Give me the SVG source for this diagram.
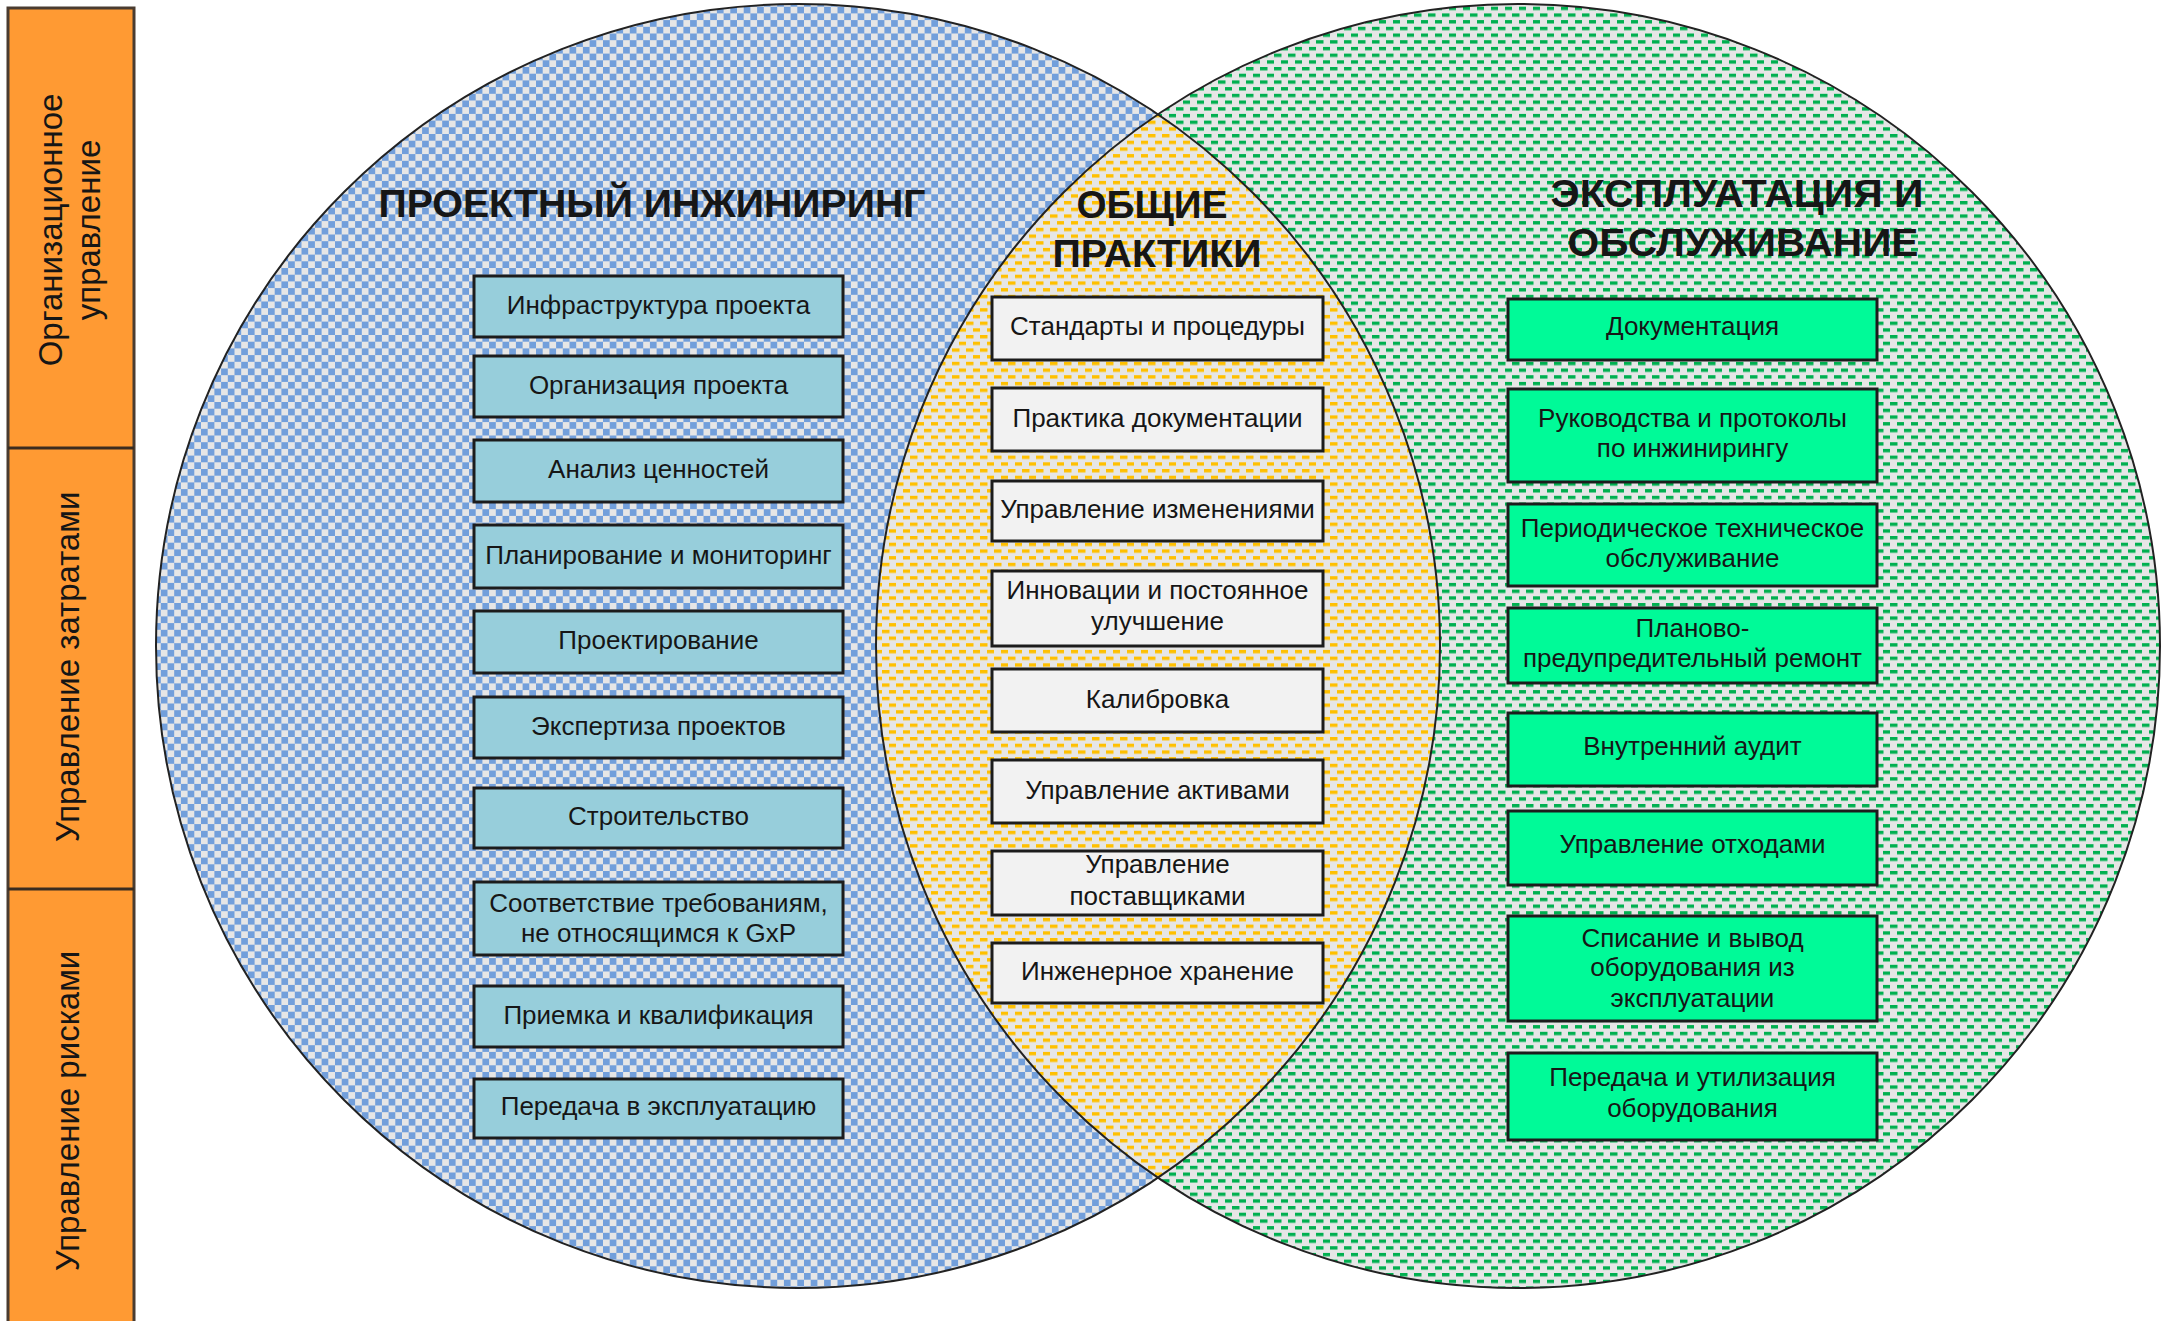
<svg xmlns="http://www.w3.org/2000/svg" width="2177" height="1321" viewBox="0 0 2177 1321">
<defs>
<pattern id="pBlue" width="13.4" height="13.4" patternUnits="userSpaceOnUse"><rect width="13.4" height="13.4" fill="#e6e6e6"/><rect width="6.7" height="6.7" fill="#729fdb"/><rect x="6.7" y="6.7" width="6.7" height="6.7" fill="#729fdb"/></pattern>
<pattern id="pGreen" width="14" height="13.4" patternUnits="userSpaceOnUse"><rect width="14" height="13.4" fill="#e6e6e6"/><rect width="7.5" height="3.4" fill="#00b050"/><rect x="7" y="6.7" width="7.5" height="3.4" fill="#00b050"/></pattern>
<pattern id="pYellow" width="14" height="13.4" patternUnits="userSpaceOnUse"><rect width="14" height="13.4" fill="#e6e6e6"/><rect width="7.5" height="3.4" fill="#ffc000"/><rect x="7" y="6.7" width="7.5" height="3.4" fill="#ffc000"/></pattern>
</defs>
<style>
text{font-family:"Liberation Sans",Arial,sans-serif;fill:#161616;text-anchor:middle}
.lbl{font-size:26px}
.side{font-size:33px}
.title{font-size:39px;font-weight:bold}
.bx{stroke:#1c1c1c;stroke-width:3}
.pe{fill:#97cedb}
.cp{fill:#f2f2f2}
.om{fill:#00fa98}
.ring{fill:none;stroke:#222;stroke-width:2}
.col{fill:#ff9a33;stroke:#4a3c30;stroke-width:3}
</style>
<rect width="2177" height="1321" fill="#fff"/>

<g id="side-column">
<rect class="col" x="8" y="8" width="126" height="1330"/>
<line x1="8" y1="448" x2="134" y2="448" stroke="#3a2c20" stroke-width="3"/>
<line x1="8" y1="889" x2="134" y2="889" stroke="#3a2c20" stroke-width="3"/>
<g id="side-org" transform="translate(71,230) rotate(-90)"><text class="side" x="0" y="-9">Организационное</text><text class="side" x="0" y="29">управление</text></g>
<g id="side-cost" transform="translate(71,667) rotate(-90)"><text class="side" x="0" y="8">Управление затратами</text></g>
<g id="side-risk" transform="translate(71,1111) rotate(-90)"><text class="side" x="0" y="8">Управление рисками</text></g>
</g>

<g id="venn">
<circle cx="798" cy="646" r="642" fill="url(#pBlue)"/>
<circle cx="1518" cy="646" r="642" fill="url(#pGreen)"/>
<path d="M1158 114.4 A642 642 0 0 1 1158 1177.6 A642 642 0 0 1 1158 114.4 Z" fill="url(#pYellow)"/>
<circle class="ring" cx="798" cy="646" r="642"/>
<circle class="ring" cx="1518" cy="646" r="642"/>
</g>

<g id="titles">
<text class="title" x="652" y="217" textLength="547" lengthAdjust="spacingAndGlyphs">ПРОЕКТНЫЙ ИНЖИНИРИНГ</text>
<text class="title" x="1152" y="218" font-size="38" textLength="151" lengthAdjust="spacingAndGlyphs">ОБЩИЕ</text>
<text class="title" x="1157" y="267" textLength="209" lengthAdjust="spacingAndGlyphs">ПРАКТИКИ</text>
<text class="title" x="1737" y="207" textLength="373" lengthAdjust="spacingAndGlyphs">ЭКСПЛУАТАЦИЯ И</text>
<text class="title" x="1743" y="256" textLength="351" lengthAdjust="spacingAndGlyphs">ОБСЛУЖИВАНИЕ</text>
</g>

<g id="pe-1"><rect class="bx pe" x="474" y="276" width="369" height="61"/><text class="lbl" x="658.5" y="313.5">Инфраструктура проекта</text></g>
<g id="pe-2"><rect class="bx pe" x="474" y="356" width="369" height="61"/><text class="lbl" x="658.5" y="393.5">Организация проекта</text></g>
<g id="pe-3"><rect class="bx pe" x="474" y="440" width="369" height="62"/><text class="lbl" x="658.5" y="478">Анализ ценностей</text></g>
<g id="pe-4"><rect class="bx pe" x="474" y="525" width="369" height="63"/><text class="lbl" x="658.5" y="563.5">Планирование и мониторинг</text></g>
<g id="pe-5"><rect class="bx pe" x="474" y="611" width="369" height="62"/><text class="lbl" x="658.5" y="649">Проектирование</text></g>
<g id="pe-6"><rect class="bx pe" x="474" y="697" width="369" height="61"/><text class="lbl" x="658.5" y="734.5">Экспертиза проектов</text></g>
<g id="pe-7"><rect class="bx pe" x="474" y="788" width="369" height="60"/><text class="lbl" x="658.5" y="825">Строительство</text></g>
<g id="pe-8"><rect class="bx pe" x="474" y="882" width="369" height="73"/><text class="lbl" x="658.5" y="911.5">Соответствие требованиям,</text><text class="lbl" x="658.5" y="942">не относящимся к GxP</text></g>
<g id="pe-9"><rect class="bx pe" x="474" y="986" width="369" height="61"/><text class="lbl" x="658.5" y="1023.5">Приемка и квалификация</text></g>
<g id="pe-10"><rect class="bx pe" x="474" y="1079" width="369" height="59"/><text class="lbl" x="658.5" y="1115">Передача в эксплуатацию</text></g>

<g id="cp-1"><rect class="bx cp" x="992" y="297" width="331" height="63"/><text class="lbl" x="1157.5" y="334.5">Стандарты и процедуры</text></g>
<g id="cp-2"><rect class="bx cp" x="992" y="388" width="331" height="63"/><text class="lbl" x="1157.5" y="426.5">Практика документации</text></g>
<g id="cp-3"><rect class="bx cp" x="992" y="481" width="331" height="60"/><text class="lbl" x="1157.5" y="518">Управление изменениями</text></g>
<g id="cp-4"><rect class="bx cp" x="992" y="571" width="331" height="75"/><text class="lbl" x="1157.5" y="599">Инновации и постоянное</text><text class="lbl" x="1157.5" y="630">улучшение</text></g>
<g id="cp-5"><rect class="bx cp" x="992" y="669" width="331" height="63"/><text class="lbl" x="1157.5" y="707.5">Калибровка</text></g>
<g id="cp-6"><rect class="bx cp" x="992" y="760" width="331" height="63"/><text class="lbl" x="1157.5" y="798.5">Управление активами</text></g>
<g id="cp-7"><rect class="bx cp" x="992" y="851" width="331" height="64"/><text class="lbl" x="1157.5" y="873">Управление</text><text class="lbl" x="1157.5" y="905">поставщиками</text></g>
<g id="cp-8"><rect class="bx cp" x="992" y="943" width="331" height="60"/><text class="lbl" x="1157.5" y="980">Инженерное хранение</text></g>

<g id="om-1"><rect class="bx om" x="1508" y="299" width="369" height="61"/><text class="lbl" x="1692.5" y="335">Документация</text></g>
<g id="om-2"><rect class="bx om" x="1508" y="389" width="369" height="93"/><text class="lbl" x="1692.5" y="427">Руководства и протоколы</text><text class="lbl" x="1692.5" y="457">по инжинирингу</text></g>
<g id="om-3"><rect class="bx om" x="1508" y="504" width="369" height="82"/><text class="lbl" x="1692.5" y="537">Периодическое техническое</text><text class="lbl" x="1692.5" y="567">обслуживание</text></g>
<g id="om-4"><rect class="bx om" x="1508" y="608" width="369" height="75"/><text class="lbl" x="1692.5" y="636.5">Планово-</text><text class="lbl" x="1692.5" y="667">предупредительный ремонт</text></g>
<g id="om-5"><rect class="bx om" x="1508" y="713" width="369" height="73"/><text class="lbl" x="1692.5" y="754.5">Внутренний аудит</text></g>
<g id="om-6"><rect class="bx om" x="1508" y="811" width="369" height="74"/><text class="lbl" x="1692.5" y="853">Управление отходами</text></g>
<g id="om-7"><rect class="bx om" x="1508" y="916" width="369" height="105"/><text class="lbl" x="1692.5" y="946.5">Списание и вывод</text><text class="lbl" x="1692.5" y="976">оборудования из</text><text class="lbl" x="1692.5" y="1007">эксплуатации</text></g>
<g id="om-8"><rect class="bx om" x="1508" y="1053" width="369" height="87"/><text class="lbl" x="1692.5" y="1086">Передача и утилизация</text><text class="lbl" x="1692.5" y="1116.5">оборудования</text></g>
</svg>
